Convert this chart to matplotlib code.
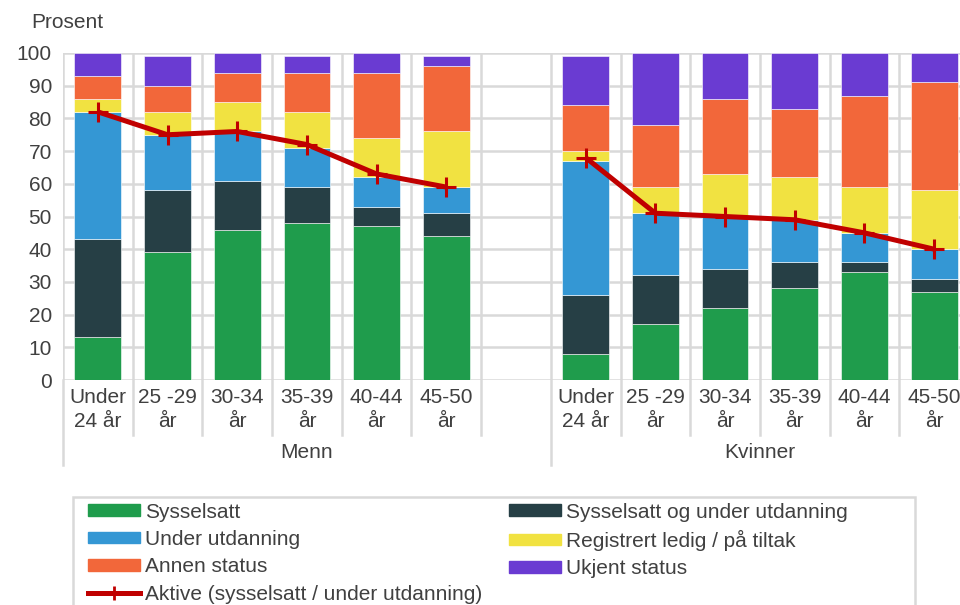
import numpy as np
import matplotlib
matplotlib.use("Agg")
import matplotlib.pyplot as plt
from matplotlib.patches import Rectangle, Patch
from matplotlib.lines import Line2D
import matplotlib.transforms as mtransforms

plt.rcParams['font.family'] = ['Liberation Sans', 'DejaVu Sans']

age_labels = ["Under\n24 år", "25 -29\når", "30-34\når", "35-39\når", "40-44\når", "45-50\når"]
groups = ["Menn", "Kvinner"]

# Men
m_syss = [13, 39, 46, 48, 47, 44]
m_syss_utd = [30, 19, 15, 11, 6, 7]
m_utd = [39, 17, 15, 12, 9, 8]
m_reg = [4, 7, 9, 11, 12, 17]
m_annen = [7, 8, 9, 12, 20, 20]
m_ukjent = [7, 9, 6, 5, 6, 3]
m_aktive = [82, 75, 76, 72, 63, 59]

# Women
k_syss = [8, 17, 22, 28, 33, 27]
k_syss_utd = [18, 15, 12, 8, 3, 4]
k_utd = [41, 19, 16, 13, 9, 9]
k_reg = [3, 8, 13, 13, 14, 18]
k_annen = [14, 19, 23, 21, 28, 33]
k_ukjent = [15, 22, 14, 17, 13, 9]
k_aktive = [68, 51, 50, 49, 45, 40]

series_names = ["Sysselsatt", "Sysselsatt og under utdanning", "Under utdanning",
                "Registrert ledig / på tiltak", "Annen status", "Ukjent status"]
colors = ["#1f9c4c", "#263f45", "#3497d4", "#f1e241", "#f2673a", "#6a3bd2"]
line_name = "Aktive (sysselsatt / under utdanning)"
line_color = "#c00000"

men_series = [m_syss, m_syss_utd, m_utd, m_reg, m_annen, m_ukjent]
women_series = [k_syss, k_syss_utd, k_utd, k_reg, k_annen, k_ukjent]

W, H = 960, 605
fig = plt.figure(figsize=(W / 100, H / 100), dpi=100)
ax_left, ax_right, ax_top, ax_bot = 63, 969, 53, 380
ax = fig.add_axes([ax_left / W, (H - ax_bot) / H, (ax_right - ax_left) / W, (ax_bot - ax_top) / H])

x_men = np.arange(6)
x_women = np.arange(7, 13)
bw = 0.67
grid_c = "#d9d9d9"
text_c = "#404040"

for xs, ser in ((x_men, men_series), (x_women, women_series)):
    bottom = np.zeros(len(xs))
    for vals, c in zip(ser, colors):
        ax.bar(xs, vals, bw, bottom=bottom, color=c, edgecolor="white", linewidth=0.4, zorder=2)
        bottom += np.array(vals)

for xs, vals in ((x_men, m_aktive), (x_women, k_aktive)):
    ax.plot(xs, vals, color=line_color, lw=3.6, marker="+", ms=14, mew=2.2, zorder=3,
            solid_capstyle="butt")

ax.set_xlim(-0.5, 12.5)
ax.set_ylim(0, 100)
ax.set_yticks(np.arange(0, 101, 10))
ax.set_xticks(np.arange(-0.5, 13.0, 1.0))
ax.set_xticklabels([])
ax.grid(True, color=grid_c, lw=1.8, zorder=0)
ax.set_axisbelow(True)
ax.tick_params(axis="both", length=0)
ax.tick_params(axis="y", labelsize=15, labelcolor=text_c, pad=8)
for s in ax.spines.values():
    s.set_visible(False)

trans = mtransforms.blended_transform_factory(ax.transData, ax.transAxes)
h_px = ax_bot - ax_top
def ay(py):
    return (ax_bot - py) / h_px

# category labels
for i, lab in enumerate(age_labels):
    for xs in (x_men, x_women):
        ax.text(xs[i], ay(388), lab, transform=trans, ha="center", va="top",
                fontsize=15, color=text_c, linespacing=1.32)

# separators
for b in np.arange(-0.5, 13.0, 1.0):
    long = b in (-0.5, 6.5, 12.5)
    y_end = ay(465) if long else ay(435)
    ax.plot([b, b], [0, y_end], transform=trans, color=grid_c, lw=1.8, clip_on=False, zorder=1)

ax.text(3.0, ay(443), groups[0], transform=trans, ha="center", va="top", fontsize=15, color=text_c)
ax.text(9.5, ay(443), groups[1], transform=trans, ha="center", va="top", fontsize=15, color=text_c)

fig.text(31 / W, 1 - 22 / H, "Prosent", ha="left", va="center", fontsize=15, color=text_c)

# legend
fig.patches.append(Rectangle((73 / W, 0 - 0.02), (915 - 73) / W, (H - 497) / H + 0.02,
                             transform=fig.transFigure, fill=False, edgecolor=grid_c, lw=1.8))
handles = [Patch(color=colors[0]), Patch(color=colors[2]), Patch(color=colors[4]),
           Line2D([], [], color=line_color, lw=3.6, marker="+", ms=10, mew=2),
           Patch(color=colors[1]), Patch(color=colors[3]), Patch(color=colors[5])]
labels = [series_names[0], series_names[2], series_names[4], line_name,
          series_names[1], series_names[3], series_names[5]]
leg = fig.legend(handles, labels, ncol=2, loc="upper left",
                 bbox_to_anchor=(75 / W, 1 - 490 / H), frameon=False, fontsize=15,
                 handlelength=2.5, handleheight=0.5, handletextpad=0.25, columnspacing=1.3,
                 labelspacing=0.40, borderpad=0.1, labelcolor=text_c)

fig.savefig("out.png", dpi=100)
